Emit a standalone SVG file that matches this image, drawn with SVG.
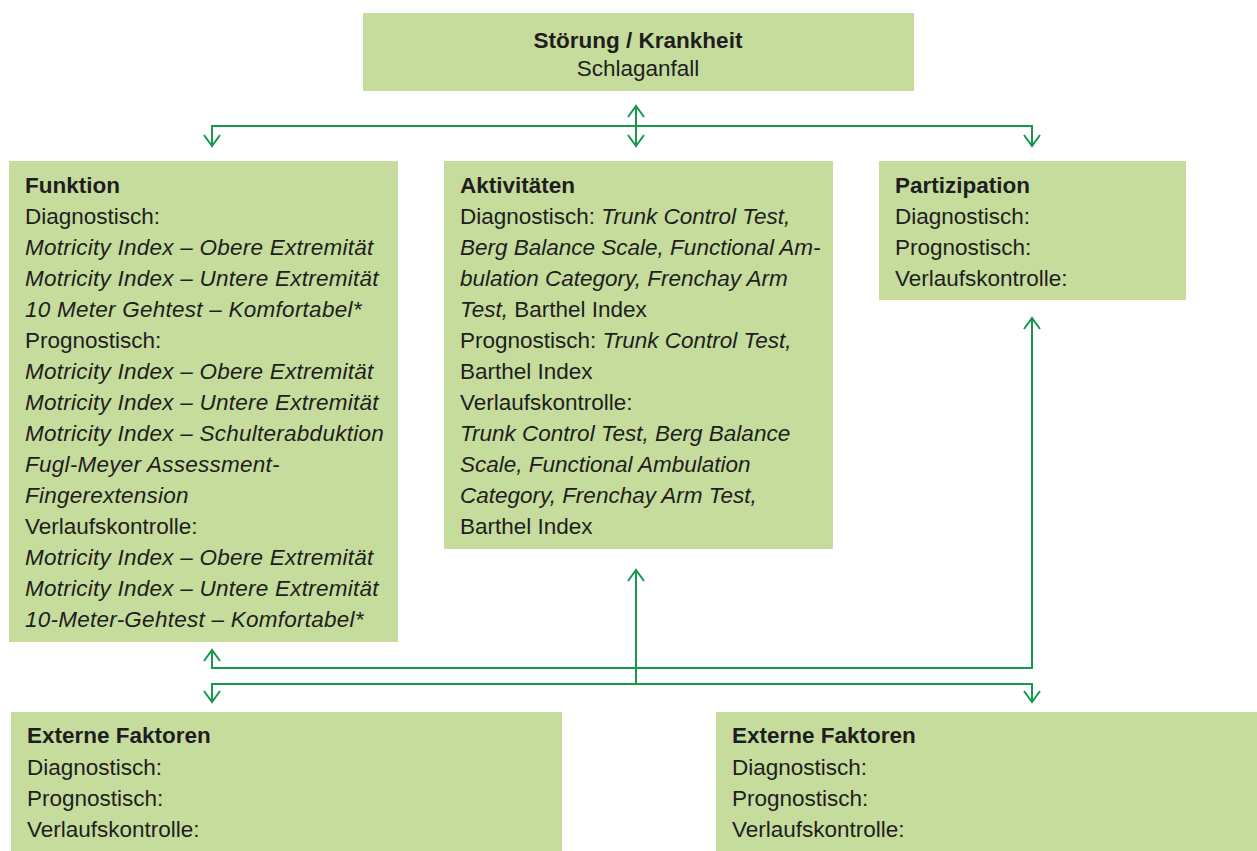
<svg xmlns="http://www.w3.org/2000/svg" width="1257" height="851" viewBox="0 0 1257 851">
<defs>
<style>
.box{fill:#c6dc9c}
.t{font-family:"Liberation Sans",Arial,sans-serif;font-size:22.5px;fill:#1e1e1e}
.b{font-weight:bold}
.i{font-style:italic}
.w{letter-spacing:0.25px}
.ln{fill:none;stroke:#16994b;stroke-width:2}
</style>
<marker id="ah" viewBox="-14 -10 16 20" markerWidth="16" markerHeight="20" refX="0" refY="0" orient="auto-start-reverse" markerUnits="userSpaceOnUse">
<path d="M-11,-8 L0,0 L-11,8" fill="none" stroke="#16994b" stroke-width="2"/>
</marker>
</defs>
<rect width="1257" height="851" fill="#ffffff"/>
<g id="stoerung">
<rect class="box" x="363" y="13" width="551" height="78"/>
<text class="t b" x="638" y="48" text-anchor="middle">Störung / Krankheit</text>
<text class="t" x="638" y="76" text-anchor="middle">Schlaganfall</text>
</g>
<g id="funktion">
<rect class="box" x="9" y="161" width="389" height="481"/>
<text class="t b" x="25" y="193">Funktion</text>
<text class="t" x="25" y="224">Diagnostisch:</text>
<text class="t i w" x="25" y="255">Motricity Index – Obere Extremität</text>
<text class="t i w" x="25" y="286">Motricity Index – Untere Extremität</text>
<text class="t i w" x="25" y="317">10 Meter Gehtest – Komfortabel*</text>
<text class="t" x="25" y="348">Prognostisch:</text>
<text class="t i w" x="25" y="379">Motricity Index – Obere Extremität</text>
<text class="t i w" x="25" y="410">Motricity Index – Untere Extremität</text>
<text class="t i w" x="25" y="441">Motricity Index – Schulterabduktion</text>
<text class="t i w" x="25" y="472">Fugl-Meyer Assessment-</text>
<text class="t i w" x="25" y="503">Fingerextension</text>
<text class="t" x="25" y="534">Verlaufskontrolle:</text>
<text class="t i w" x="25" y="565">Motricity Index – Obere Extremität</text>
<text class="t i w" x="25" y="596">Motricity Index – Untere Extremität</text>
<text class="t i w" x="25" y="627">10-Meter-Gehtest – Komfortabel*</text>
</g>
<g id="aktivitaeten">
<rect class="box" x="444" y="161" width="389" height="388"/>
<text class="t b" x="460" y="193">Aktivitäten</text>
<text class="t" x="460" y="224">Diagnostisch: <tspan class="i">Trunk Control Test,</tspan></text>
<text class="t i" x="460" y="255">Berg Balance Scale, Functional Am-</text>
<text class="t i" x="460" y="286">bulation Category, Frenchay Arm</text>
<text class="t" x="460" y="317"><tspan class="i">Test,</tspan> Barthel Index</text>
<text class="t" x="460" y="348">Prognostisch: <tspan class="i">Trunk Control Test,</tspan></text>
<text class="t" x="460" y="379">Barthel Index</text>
<text class="t" x="460" y="410">Verlaufskontrolle:</text>
<text class="t i" x="460" y="441">Trunk Control Test, Berg Balance</text>
<text class="t i" x="460" y="472">Scale, Functional Ambulation</text>
<text class="t i" x="460" y="503">Category, Frenchay Arm Test,</text>
<text class="t" x="460" y="534">Barthel Index</text>
</g>
<g id="partizipation">
<rect class="box" x="879" y="161" width="307" height="139"/>
<text class="t b" x="895" y="193">Partizipation</text>
<text class="t" x="895" y="224">Diagnostisch:</text>
<text class="t" x="895" y="255">Prognostisch:</text>
<text class="t" x="895" y="286">Verlaufskontrolle:</text>
</g>
<g id="externe-links">
<rect class="box" x="11" y="712" width="551" height="139"/>
<text class="t b" x="27" y="743">Externe Faktoren</text>
<text class="t" x="27" y="775">Diagnostisch:</text>
<text class="t" x="27" y="806">Prognostisch:</text>
<text class="t" x="27" y="837">Verlaufskontrolle:</text>
</g>
<g id="externe-rechts">
<rect class="box" x="716" y="712" width="541" height="139"/>
<text class="t b" x="732" y="743">Externe Faktoren</text>
<text class="t" x="732" y="775">Diagnostisch:</text>
<text class="t" x="732" y="806">Prognostisch:</text>
<text class="t" x="732" y="837">Verlaufskontrolle:</text>
</g>
<g id="connectors">
<path class="ln" d="M212,146 V126 H1032 V146" marker-start="url(#ah)" marker-end="url(#ah)"/>
<path class="ln" d="M636,106 V146" marker-start="url(#ah)" marker-end="url(#ah)"/>
<path class="ln" d="M212,650 V668 H1032 V318" marker-start="url(#ah)" marker-end="url(#ah)"/>
<path class="ln" d="M212,702 V684 H1032 V702" marker-start="url(#ah)" marker-end="url(#ah)"/>
<path class="ln" d="M636,684 V570" marker-end="url(#ah)"/>
</g>
</svg>
